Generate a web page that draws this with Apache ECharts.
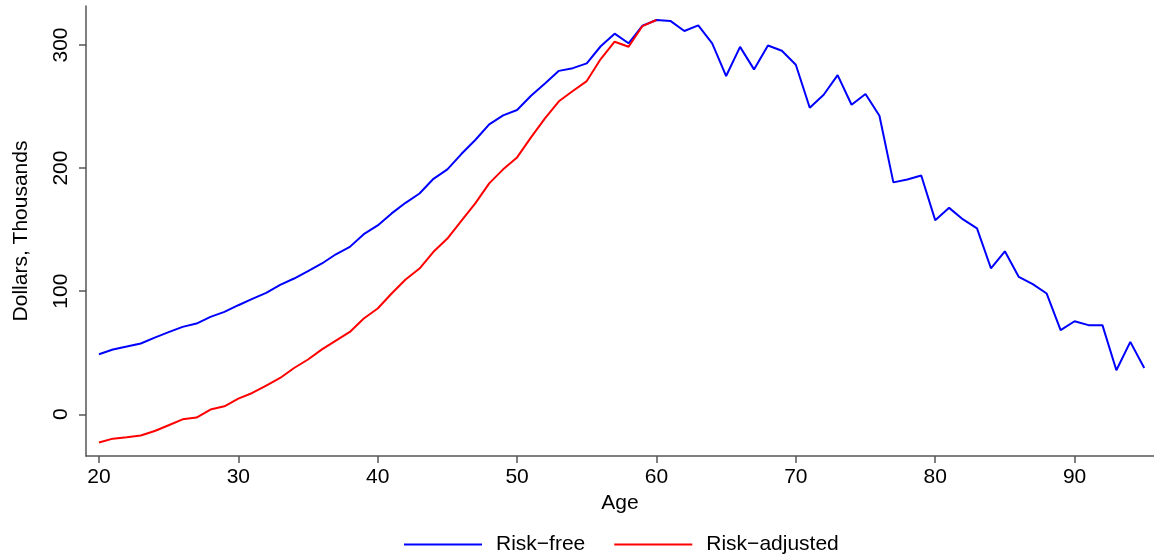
<!DOCTYPE html>
<html>
<head>
<meta charset="utf-8">
<script src="https://cdn.jsdelivr.net/npm/echarts@6/dist/echarts.min.js"></script>
<style>
  html, body { margin: 0; padding: 0; background: #fff; }
  #main { width: 1154px; height: 558px; }
</style>
</head>
<body>
<div id="main"></div>
<script>
// data
var ages = [];
for (var a = 20; a <= 95; a++) ages.push(a);

var riskFree = [
  48.8, 52.6, 55.0, 57.5, 62.3, 66.7, 71.0, 73.7, 79.1, 83.2,
  88.6, 93.7, 98.6, 105.1, 110.3, 116.3, 122.5, 130.0, 136.0, 146.3,
  153.4, 163.2, 171.8, 179.4, 191.3, 199.0, 211.4, 222.8, 235.5, 242.8,
  247.2, 258.8, 268.8, 279.0, 281.2, 285.1, 299.0, 309.2, 301.4, 315.7,
  320.3, 319.6, 311.4, 316.0, 301.4, 274.8, 298.5, 280.2, 299.6, 295.3,
  284.0, 249.0, 259.6, 275.6, 251.5, 260.2, 242.5, 188.4, 190.8, 194.0,
  157.7, 167.7, 158.3, 151.0, 118.6, 132.4, 111.6, 105.7, 98.1, 68.3,
  75.6, 72.4, 72.4, 35.8, 58.8, 37.6
];

var riskAdjusted = [
  -23.0, -19.8, -18.7, -17.3, -13.6, -8.9, -4.1, -2.7, 3.8, 6.5,
  12.7, 17.3, 23.3, 29.5, 37.6, 44.5, 52.7, 59.9, 66.9, 77.8,
  85.9, 98.1, 109.5, 118.4, 132.0, 142.8, 157.2, 171.3, 187.6, 199.0,
  208.7, 225.0, 240.4, 254.3, 262.6, 270.7, 288.6, 302.7, 298.6, 315.4,
  320.3
];

var xTicks = [20, 30, 40, 50, 60, 70, 80, 90];
var yTicks = [0, 100, 200, 300];

function pairs(ys) {
  return ys.map(function (v, i) { return [ages[i], v]; });
}

var chart = echarts.init(document.getElementById('main'));

var font = 'Liberation Sans';
var axisGrey = '#555555';

var option = {
  animation: false,
  backgroundColor: '#ffffff',
  grid: { left: 86, right: 0, top: 6, bottom: 102 },
  legend: {
    bottom: -2,
    left: 399,
    itemWidth: 78,
    itemHeight: 2,
    itemGap: 29,
    icon: 'rect',
    textStyle: { fontFamily: font, fontSize: 21, color: '#000', padding: [0, 0, 0, 9] },
    data: ['Risk\u2212free', 'Risk\u2212adjusted']
  },
  xAxis: {
    type: 'value',
    min: 19.07,
    max: 95.7,
    name: 'Age',
    nameLocation: 'middle',
    nameGap: 36,
    nameTextStyle: { fontFamily: font, fontSize: 21, color: '#000' },
    axisLine: { onZero: false, lineStyle: { color: axisGrey, width: 1.5 } },
    axisTick: { customValues: xTicks, length: 7, lineStyle: { color: axisGrey, width: 1.5 } },
    axisLabel: { customValues: xTicks, fontFamily: font, fontSize: 21, color: '#000', margin: 11 },
    splitLine: { show: false }
  },
  yAxis: {
    type: 'value',
    min: -33.9,
    max: 331.7,
    name: 'Dollars, Thousands',
    nameLocation: 'middle',
    nameGap: 54,
    nameTextStyle: { fontFamily: font, fontSize: 21, color: '#000' },
    axisLine: { show: true, onZero: false, lineStyle: { color: axisGrey, width: 1.5 } },
    axisTick: { show: true, customValues: yTicks, length: 7, lineStyle: { color: axisGrey, width: 1.5 } },
    axisLabel: { customValues: yTicks, rotate: 90, fontFamily: font, fontSize: 21, color: '#000', margin: 14 },
    splitLine: { show: false }
  },
  series: [
    {
      name: 'Risk\u2212free',
      type: 'line',
      data: pairs(riskFree),
      symbol: 'none',
      lineStyle: { color: '#0000ff', width: 2 },
      itemStyle: { color: '#0000ff' },
      z: 3
    },
    {
      name: 'Risk\u2212adjusted',
      type: 'line',
      data: pairs(riskAdjusted),
      symbol: 'none',
      lineStyle: { color: '#ff0000', width: 2 },
      itemStyle: { color: '#ff0000' },
      z: 4
    }
  ]
};

chart.setOption(option);
</script>
</body>
</html>
